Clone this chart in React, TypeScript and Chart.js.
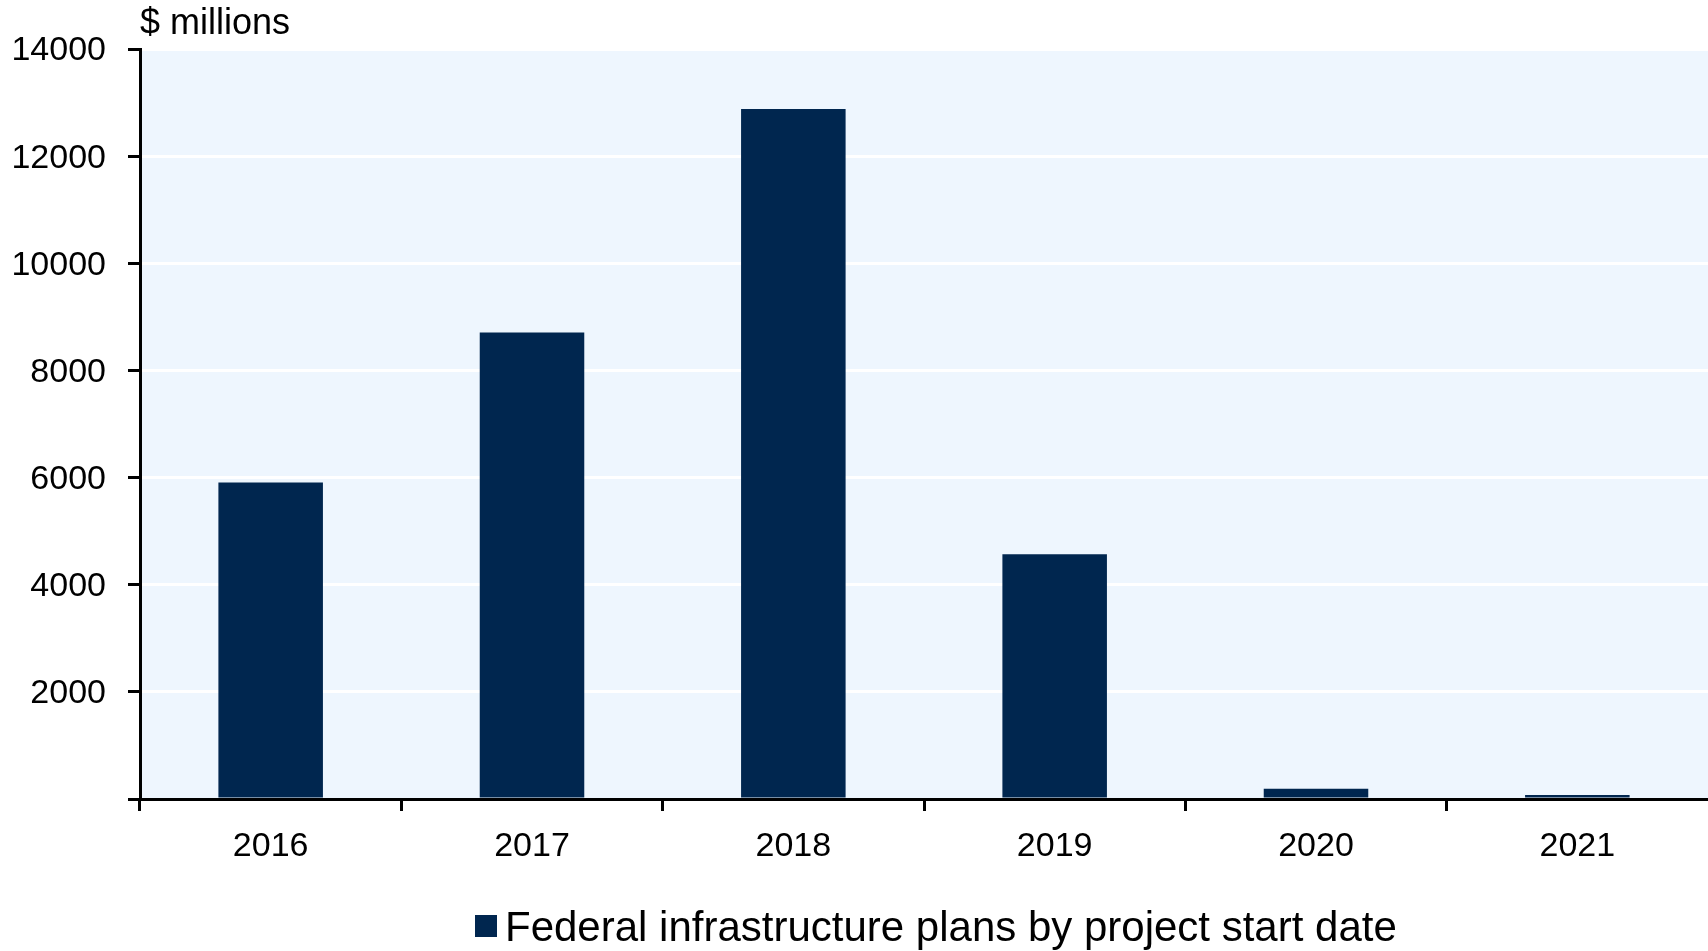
import React, { useEffect, useRef } from 'react';
import { Chart, registerables } from 'chart.js';

Chart.register(...registerables);

const categories = ['2016', '2017', '2018', '2019', '2020', '2021'];
const seriesValues = [5910, 8710, 12880, 4570, 190, 75];
const seriesLabel = 'Federal infrastructure plans by project start date';
const unitLabel = '$ millions';
const yMin = 0;
const yMax = 14000;
const yStep = 2000;

const FONT = "'Liberation Sans', Arial, sans-serif";
const BAR_COLOR = '#00264F';
const BG_COLOR = '#EEF6FE';

const decorPlugin = {
  id: 'decor',
  beforeDraw(chart: any) {
    const { ctx, chartArea } = chart;
    const { left, top, right, bottom } = chartArea;
    ctx.save();
    ctx.fillStyle = BG_COLOR;
    ctx.fillRect(left, top, right - left, bottom - top);
    ctx.restore();
  },
  afterDraw(chart: any) {
    const { ctx, chartArea } = chart;
    ctx.save();
    // hide the closing tick mark at the right edge of the category axis
    ctx.fillStyle = '#FFFFFF';
    ctx.fillRect(chartArea.right - 4, chartArea.bottom + 2, 4, 14);
    // unit title
    ctx.fillStyle = '#000';
    ctx.font = `36px ${FONT}`;
    ctx.textAlign = 'left';
    ctx.textBaseline = 'alphabetic';
    ctx.fillText(unitLabel, chartArea.left, 34);
    // legend
    const ds = chart.data.datasets[0];
    const boxX = 475;
    ctx.fillStyle = ds.backgroundColor;
    ctx.fillRect(boxX, 915, 22, 22);
    ctx.fillStyle = '#000';
    ctx.font = `42px ${FONT}`;
    ctx.fillText(ds.label, boxX + 30, 941);
    ctx.restore();
  },
};

export default function App() {
  const canvasRef = useRef<HTMLCanvasElement | null>(null);

  useEffect(() => {
    const canvas = canvasRef.current;
    if (!canvas) return;
    const chart = new Chart(canvas, {
      type: 'bar',
      data: {
        labels: categories,
        datasets: [
          {
            label: seriesLabel,
            data: seriesValues,
            backgroundColor: BAR_COLOR,
            borderWidth: 0,
            barPercentage: 0.4,
            categoryPercentage: 1.0,
          },
        ],
      },
      options: {
        responsive: false,
        maintainAspectRatio: false,
        animation: false,
        devicePixelRatio: 1,
        layout: { padding: { top: 49, left: 0, right: 0, bottom: 0 } },
        plugins: {
          legend: { display: false },
          tooltip: { enabled: false },
          title: { display: false },
        },
        scales: {
          x: {
            afterFit: (scale: any) => {
              scale.height = 152;
            },
            ticks: {
              color: '#000',
              font: { family: FONT, size: 34 },
              padding: 15,
              maxRotation: 0,
            },
            grid: {
              display: true,
              drawOnChartArea: false,
              drawTicks: true,
              tickLength: 12,
              tickColor: '#000',
              tickWidth: 3,
            },
            border: { display: true, color: '#000', width: 3, z: 1 },
          },
          y: {
            min: yMin,
            max: yMax,
            afterFit: (scale: any) => {
              scale.width = 140;
            },
            ticks: {
              stepSize: yStep,
              color: '#000',
              padding: 22,
              labelOffset: 2,
              font: { family: FONT, size: 34 },
              callback: (v: any) => (Number(v) === 0 ? '' : String(v)),
            },
            grid: {
              color: '#FFFFFF',
              lineWidth: 3,
              drawTicks: true,
              tickLength: 12,
              tickColor: '#000',
              tickWidth: 3,
            },
            border: { display: true, color: '#000', width: 3 },
          },
        },
      },
      plugins: [decorPlugin],
    });
    return () => chart.destroy();
  }, []);

  return (
    <div style={{ position: 'absolute', left: 0, top: 0, width: 1708, height: 951, background: '#fff' }}>
      <canvas ref={canvasRef} width={1708} height={951} style={{ display: 'block', width: 1708, height: 951 }} />
    </div>
  );
}
